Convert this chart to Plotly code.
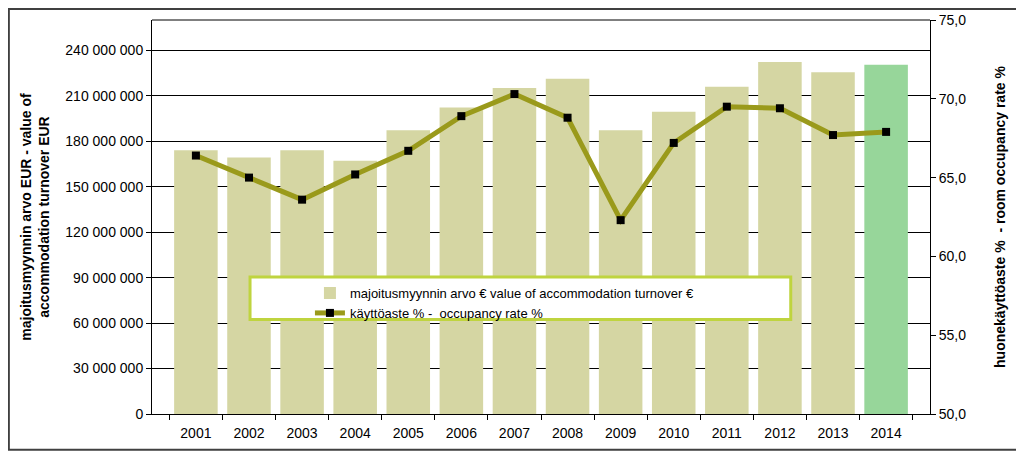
import plotly.graph_objects as go

years = [str(y) for y in range(2001, 2015)]
turnover = [174100000, 169300000, 174100000, 167100000, 187300000, 202200000, 215200000,
            221300000, 187300000, 199400000, 216000000, 232300000, 225500000, 230500000]
occupancy = [66.4, 65.0, 63.6, 65.2, 66.7, 68.9, 70.3, 68.8, 62.3, 67.2, 69.5, 69.4, 67.7, 67.9]

bar_colors = ["#D5D6A3"] * 13 + ["#97D69A"]

fig = go.Figure()
fig.add_trace(go.Bar(
    x=years, y=turnover, name="majoitusmyynnin arvo € value of accommodation turnover €",
    marker=dict(color=bar_colors, line=dict(width=0)), yaxis="y",
))
fig.add_trace(go.Scatter(
    x=years, y=occupancy, name="käyttöaste % -  occupancy rate %", yaxis="y2",
    mode="lines+markers",
    line=dict(color="#9A9A1B", width=5),
    marker=dict(symbol="square", size=8, color="black"),
))

# outer frame and legend box
fig.add_shape(type="rect", xref="paper", yref="paper", x0=-0.184, x1=1.118, y0=-0.091, y1=1.028,
              line=dict(color="#404040", width=2), layer="below")
fig.add_shape(type="rect", xref="paper", yref="paper", x0=0.126, x1=0.821, y0=0.24, y1=0.348,
              fillcolor="white", line=dict(color="#BFD43F", width=3), layer="above")

# page body adds 8px, so the figure is 8px smaller than the window
fig.update_layout(
    width=1016, height=444,
    margin=dict(l=144, r=94, t=12, b=38, autoexpand=False),
    paper_bgcolor="white", plot_bgcolor="white",
    font=dict(family="Liberation Sans, Arial, sans-serif", size=14, color="black"),
    separators=", ",
    bargap=0.18,
    showlegend=True,
    legend=dict(x=0.203, y=0.345, xanchor="left", yanchor="top", bgcolor="rgba(0,0,0,0)",
                borderwidth=0, font=dict(size=13), tracegroupgap=0),
    xaxis=dict(type="category", showline=True, linecolor="black", linewidth=1,
               ticks="outside", tickson="boundaries", ticklen=5, tickcolor="black",
               ticklabelstandoff=6, showgrid=False, automargin=False),
    yaxis=dict(range=[0, 260000000], tickvals=list(range(0, 260000000, 30000000)),
               tickformat=",d", showline=True, linecolor="black", linewidth=1,
               ticks="outside", ticklen=5, tickcolor="black", automargin=False,
               showgrid=True, gridcolor="black", gridwidth=1, zeroline=False,
               title=dict(text="<b>majoitusmyynnin arvo EUR - value of<br>accommodation turnover EUR</b>",
                          font=dict(size=14), standoff=12)),
    yaxis2=dict(range=[50, 75], dtick=5, tickformat=".1f", overlaying="y", side="right",
                showline=True, linecolor="black", linewidth=1, ticks="outside", ticklen=5,
                tickcolor="black", showgrid=False, zeroline=False, automargin=False,
                title=dict(text="<b>huonekäyttöaste %  - room occupancy rate %</b>",
                           font=dict(size=14), standoff=29)),
)
fig.add_shape(type="line", xref="paper", yref="paper", x0=0, x1=1, y0=1, y1=1,
              line=dict(color="black", width=1))

fig.write_html("out.html")
